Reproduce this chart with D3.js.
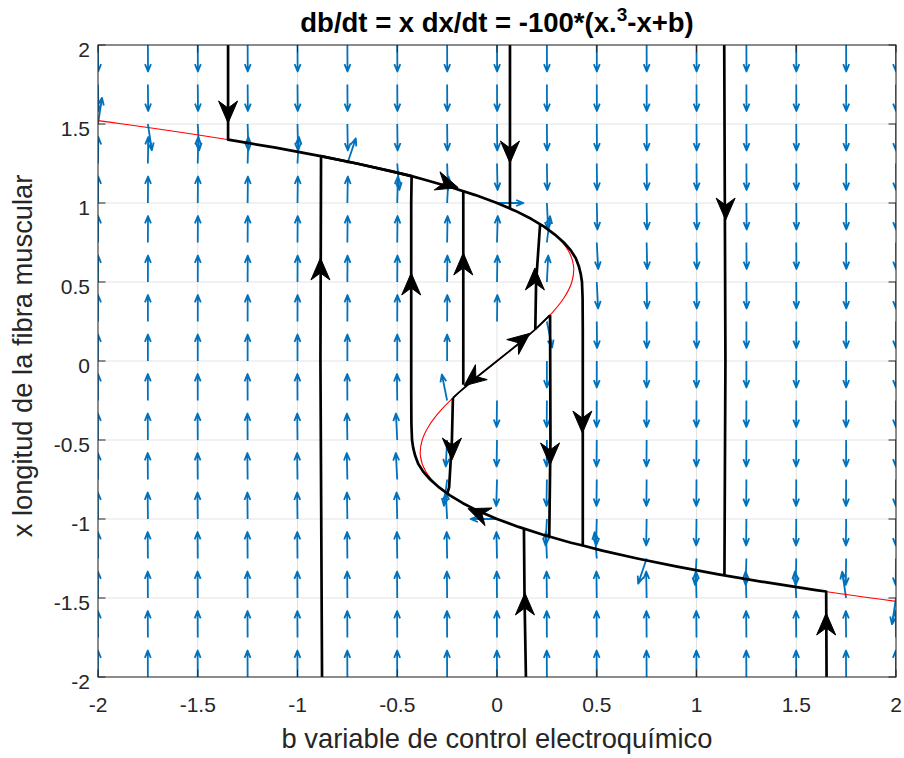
<!DOCTYPE html>
<html><head><meta charset="utf-8">
<script src="https://cdn.jsdelivr.net/npm/d3@7/dist/d3.min.js"></script>
<style>body{margin:0;background:#fff}svg{display:block}</style>
</head><body>
<svg id="chart" width="904" height="758"></svg>
<script>
// ---- data ----
const bTicks = [-2, -1.5, -1, -0.5, 0, 0.5, 1, 1.5, 2];
const xTicks = [-2, -1.5, -1, -0.5, 0, 0.5, 1, 1.5, 2];
const bTickLabels = ["-2", "-1.5", "-1", "-0.5", "0", "0.5", "1", "1.5", "2"];
const xTickLabels = ["-2", "-1.5", "-1", "-0.5", "0", "0.5", "1", "1.5", "2"];

// quiver grid and field: db/dt = x, dx/dt = -100*(x^3 - x + b)
const quiverB = [-2, -1.75, -1.5, -1.25, -1, -0.75, -0.5, -0.25, 0, 0.25, 0.5, 0.75, 1, 1.25, 1.5, 1.75, 2];
const quiverX = [-2, -1.75, -1.5, -1.25, -1, -0.75, -0.5, -0.25, 0, 0.25, 0.5, 0.75, 1, 1.25, 1.5, 1.75, 2];
const fieldGain = -100;

// red nullcline (b, x)
const nullX = [-1.6, -1.5, -1.4, -1.3, -1.2, -1.1, -1.0, -0.9, -0.8, -0.7, -0.6, -0.5, -0.4, -0.3, -0.2, -0.1, 0,
               0.1, 0.2, 0.3, 0.4, 0.5, 0.6, 0.7, 0.8, 0.9, 1.0, 1.1, 1.2, 1.3, 1.4, 1.5, 1.6];
const nullB = [2.496, 1.875, 1.344, 0.897, 0.528, 0.231, 0, -0.171, -0.288, -0.357, -0.384, -0.375, -0.336, -0.273, -0.192, -0.099, 0,
               0.099, 0.192, 0.273, 0.336, 0.375, 0.384, 0.357, 0.288, 0.171, 0, -0.231, -0.528, -0.897, -1.344, -1.875, -2.496];

// black trajectories, [b, x] pairs
const trajTopLeft = [[-1.348, 2.0], [-1.348, 1.401], [-1.11, 1.35], [-0.897, 1.3], [-0.703, 1.25], [-0.528, 1.2], [-0.428, 1.17]];
const trajLeft = [[-0.877, -2.0], [-0.885, 0.0], [-0.882, 1.297], [-0.703, 1.25], [-0.528, 1.2], [-0.428, 1.17]];
const trajCycle = [[-0.428, 1.17], [-0.371, 1.15], [-0.231, 1.1], [-0.108, 1.05], [0, 1.0], [0.093, 0.95], [0.171, 0.9],
  [0.236, 0.85], [0.29, 0.8], [0.335, 0.75], [0.37, 0.7], [0.395, 0.65], [0.41, 0.6], [0.42, 0.55], [0.426, 0.5],
  [0.429, 0.4], [0.43, 0.2], [0.43, -1.168], [0.371, -1.15], [0.231, -1.1], [0.108, -1.05], [0, -1.0], [-0.093, -0.95],
  [-0.171, -0.9], [-0.236, -0.85], [-0.29, -0.8], [-0.335, -0.75], [-0.37, -0.7], [-0.395, -0.65], [-0.41, -0.6],
  [-0.42, -0.55], [-0.426, -0.5], [-0.429, -0.4], [-0.43, -0.2], [-0.43, 1.0], [-0.428, 1.17]];
const trajBottomRight = [[1.652, -2.0], [1.65, -1.459], [1.599, -1.45], [1.344, -1.4], [1.11, -1.35], [0.897, -1.3],
  [0.703, -1.25], [0.528, -1.2], [0.43, -1.168]];
const trajTopRight = [[1.139, 2.0], [1.145, 0.0], [1.14, -1.356]];
const trajTopMid = [[0.065, 2.0], [0.065, 0.965]];
const trajBottomMid = [[0.145, -2.0], [0.138, -1.5], [0.135, -1.062]];
const trajDiagonal = [[-0.221, -0.234], [-0.192, -0.2], [-0.099, -0.1], [0, 0], [0.099, 0.1], [0.192, 0.2], [0.266, 0.291]];
const trajDownLeft = [[-0.221, -0.234], [-0.226, -0.5], [-0.24, -0.8], [-0.249, -0.838]];
const trajUpLeft = [[-0.169, -0.15], [-0.169, 1.077]];
const trajUpRight = [[0.192, 0.2], [0.196, 0.5], [0.216, 0.864]];
const trajDownRight = [[0.266, 0.291], [0.268, -0.5], [0.262, -1.11]];

// arrowheads on trajectories: tip position and direction (data units)
const arrowB    = [-1.348, -0.885, -0.43, -0.169, -0.195, 0.065, 0.19, 0.165, -0.165, -0.226, 0.266, 0.428, -0.145, 0.14, 1.146, 1.65];
const arrowX    = [1.506, 0.652, 0.557, 0.684, 1.098, 1.253, 0.589, 0.175, -0.157, -0.627, -0.658, -0.456, -0.935, -1.468, 0.892, -1.595];
const arrowDirB = [0, 0, 0, 0, 1, 0, 0, 1, -1, 0, 0, 0, -1, 0, 0, 0];
const arrowDirX = [-1, 1, 1, 1, -0.4, -1, 1, 1, -1, -1, -1, -1, 0.5, 1, -1, 1];

// ---- layout ----
const L = 98, R = 896, T = 45, B = 677;
const svg = d3.select("#chart");
const xs = d3.scaleLinear().domain([-2, 2]).range([L, R]);
const ys = d3.scaleLinear().domain([-2, 2]).range([B, T]);
const font = "'Liberation Sans', Arial, Helvetica, sans-serif";
const axisColor = "#262626";

svg.append("rect").attr("x", 0).attr("y", 0).attr("width", 904).attr("height", 758).attr("fill", "#fff");

svg.append("defs").append("clipPath").attr("id", "plotclip")
  .append("rect").attr("x", L).attr("y", T).attr("width", R - L).attr("height", B - T);

// grid
const grid = svg.append("g");
grid.selectAll("line.gx").data(bTicks).join("line")
  .attr("x1", d => xs(d)).attr("x2", d => xs(d)).attr("y1", T).attr("y2", B)
  .attr("stroke", "#e3e3e3").attr("stroke-width", 1);
grid.selectAll("line.gy").data(xTicks).join("line")
  .attr("y1", d => ys(d)).attr("y2", d => ys(d)).attr("x1", L).attr("x2", R)
  .attr("stroke", "#e3e3e3").attr("stroke-width", 1);

const plot = svg.append("g").attr("clip-path", "url(#plotclip)");

// quiver
const kx = xs(1) - xs(0), ky = ys(0) - ys(1);
const qLen = 26.5, qA = 0.28, qB = 0.4;
const qPaths = [];
quiverB.forEach(b => quiverX.forEach(x => {
  const u = x, v = fieldGain * (x * x * x - x + b);
  const dx = u * kx, dy = -v * ky;
  const n = Math.hypot(dx, dy);
  if (n < 1e-9) return;
  const ux = dx / n, uy = dy / n, px = -uy, py = ux;
  const x0 = xs(b), y0 = ys(x);
  const tx = x0 + ux * qLen, ty = y0 + uy * qLen;
  const h = qA * qLen, w = qA * qB * qLen;
  qPaths.push(`M${x0},${y0}L${tx},${ty}M${tx - ux * h + px * w},${ty - uy * h + py * w}L${tx},${ty}L${tx - ux * h - px * w},${ty - uy * h - py * w}`);
}));
plot.append("g").selectAll("path").data(qPaths).join("path")
  .attr("d", d => d).attr("fill", "none").attr("stroke", "#0072BD")
  .attr("stroke-width", 1.8).attr("stroke-linejoin", "round");

// nullcline
const nullPts = nullX.map((x, i) => [nullB[i], x]);
const line = d3.line().x(d => xs(d[0])).y(d => ys(d[1]));
plot.append("path").attr("d", line.curve(d3.curveCatmullRom)(nullPts))
  .attr("fill", "none").attr("stroke", "#ff0000").attr("stroke-width", 1.1);

// trajectories
const lineLin = d3.line().x(d => xs(d[0])).y(d => ys(d[1]));
const thick = [trajTopLeft, trajLeft, trajCycle, trajBottomRight, trajTopRight, trajTopMid, trajBottomMid,
               trajDownLeft, trajUpLeft, trajUpRight, trajDownRight];
plot.append("g").selectAll("path").data(thick).join("path")
  .attr("d", d => lineLin(d)).attr("fill", "none").attr("stroke", "#000")
  .attr("stroke-width", 2.7).attr("stroke-linejoin", "round").attr("stroke-linecap", "butt");
plot.append("path").attr("d", lineLin(trajDiagonal)).attr("fill", "none").attr("stroke", "#000")
  .attr("stroke-width", 1.9).attr("stroke-linejoin", "round");

// arrowheads
const heads = arrowB.map((b, i) => {
  const dx = arrowDirB[i] * kx, dy = -arrowDirX[i] * ky;
  const n = Math.hypot(dx, dy), ux = dx / n, uy = dy / n, px = -uy, py = ux;
  const tx = xs(b), ty = ys(arrowX[i]);
  const len = 22, hw = 9.5, notch = 15;
  return `M${tx},${ty}L${tx - ux * len + px * hw},${ty - uy * len + py * hw}L${tx - ux * notch},${ty - uy * notch}L${tx - ux * len - px * hw},${ty - uy * len - py * hw}Z`;
});
plot.append("g").selectAll("path").data(heads).join("path")
  .attr("d", d => d).attr("fill", "#000").attr("stroke", "#000").attr("stroke-width", 1).attr("stroke-linejoin", "miter");

// axes box and ticks
const ax = svg.append("g");
ax.append("rect").attr("x", L).attr("y", T).attr("width", R - L).attr("height", B - T)
  .attr("fill", "none").attr("stroke", axisColor).attr("stroke-width", 1);
const tl = 7.5;
ax.selectAll("line.tb").data(bTicks).join("line")
  .attr("x1", d => xs(d)).attr("x2", d => xs(d)).attr("y1", B).attr("y2", B - tl)
  .attr("stroke", axisColor).attr("stroke-width", 1);
ax.selectAll("line.tt").data(bTicks).join("line")
  .attr("x1", d => xs(d)).attr("x2", d => xs(d)).attr("y1", T).attr("y2", T + tl)
  .attr("stroke", axisColor).attr("stroke-width", 1);
ax.selectAll("line.tl").data(xTicks).join("line")
  .attr("y1", d => ys(d)).attr("y2", d => ys(d)).attr("x1", L).attr("x2", L + tl)
  .attr("stroke", axisColor).attr("stroke-width", 1);
ax.selectAll("line.tr").data(xTicks).join("line")
  .attr("y1", d => ys(d)).attr("y2", d => ys(d)).attr("x1", R).attr("x2", R - tl)
  .attr("stroke", axisColor).attr("stroke-width", 1);

// tick labels
ax.selectAll("text.bl").data(bTicks).join("text")
  .attr("x", d => xs(d)).attr("y", B + 35).attr("text-anchor", "middle")
  .attr("font-family", font).attr("font-size", 21).attr("fill", axisColor)
  .text((d, i) => bTickLabels[i]);
ax.selectAll("text.xl").data(xTicks).join("text")
  .attr("x", L - 8).attr("y", d => ys(d) + 11.5).attr("text-anchor", "end")
  .attr("font-family", font).attr("font-size", 21).attr("fill", axisColor)
  .text((d, i) => xTickLabels[i]);

// axis labels
svg.append("text").attr("x", (L + R) / 2).attr("y", 748).attr("text-anchor", "middle")
  .attr("font-family", font).attr("font-size", 27.3).attr("fill", axisColor)
  .text("b variable de control electroquímico");
svg.append("text").attr("transform", `translate(32,${(T + B) / 2 - 5}) rotate(-90)`).attr("text-anchor", "middle")
  .attr("font-family", font).attr("font-size", 27.3).attr("fill", axisColor)
  .text("x longitud de la fibra muscular");

// title
const title = svg.append("text").attr("x", (L + R) / 2).attr("y", 32).attr("text-anchor", "middle")
  .attr("font-family", font).attr("font-size", 27.5).attr("font-weight", "bold").attr("fill", "#000");
title.append("tspan").text("db/dt = x dx/dt = -100*(x.");
title.append("tspan").attr("dy", -11).attr("font-size", 19).text("3");
title.append("tspan").attr("dy", 11).text("-x+b)");
</script>
</body></html>
